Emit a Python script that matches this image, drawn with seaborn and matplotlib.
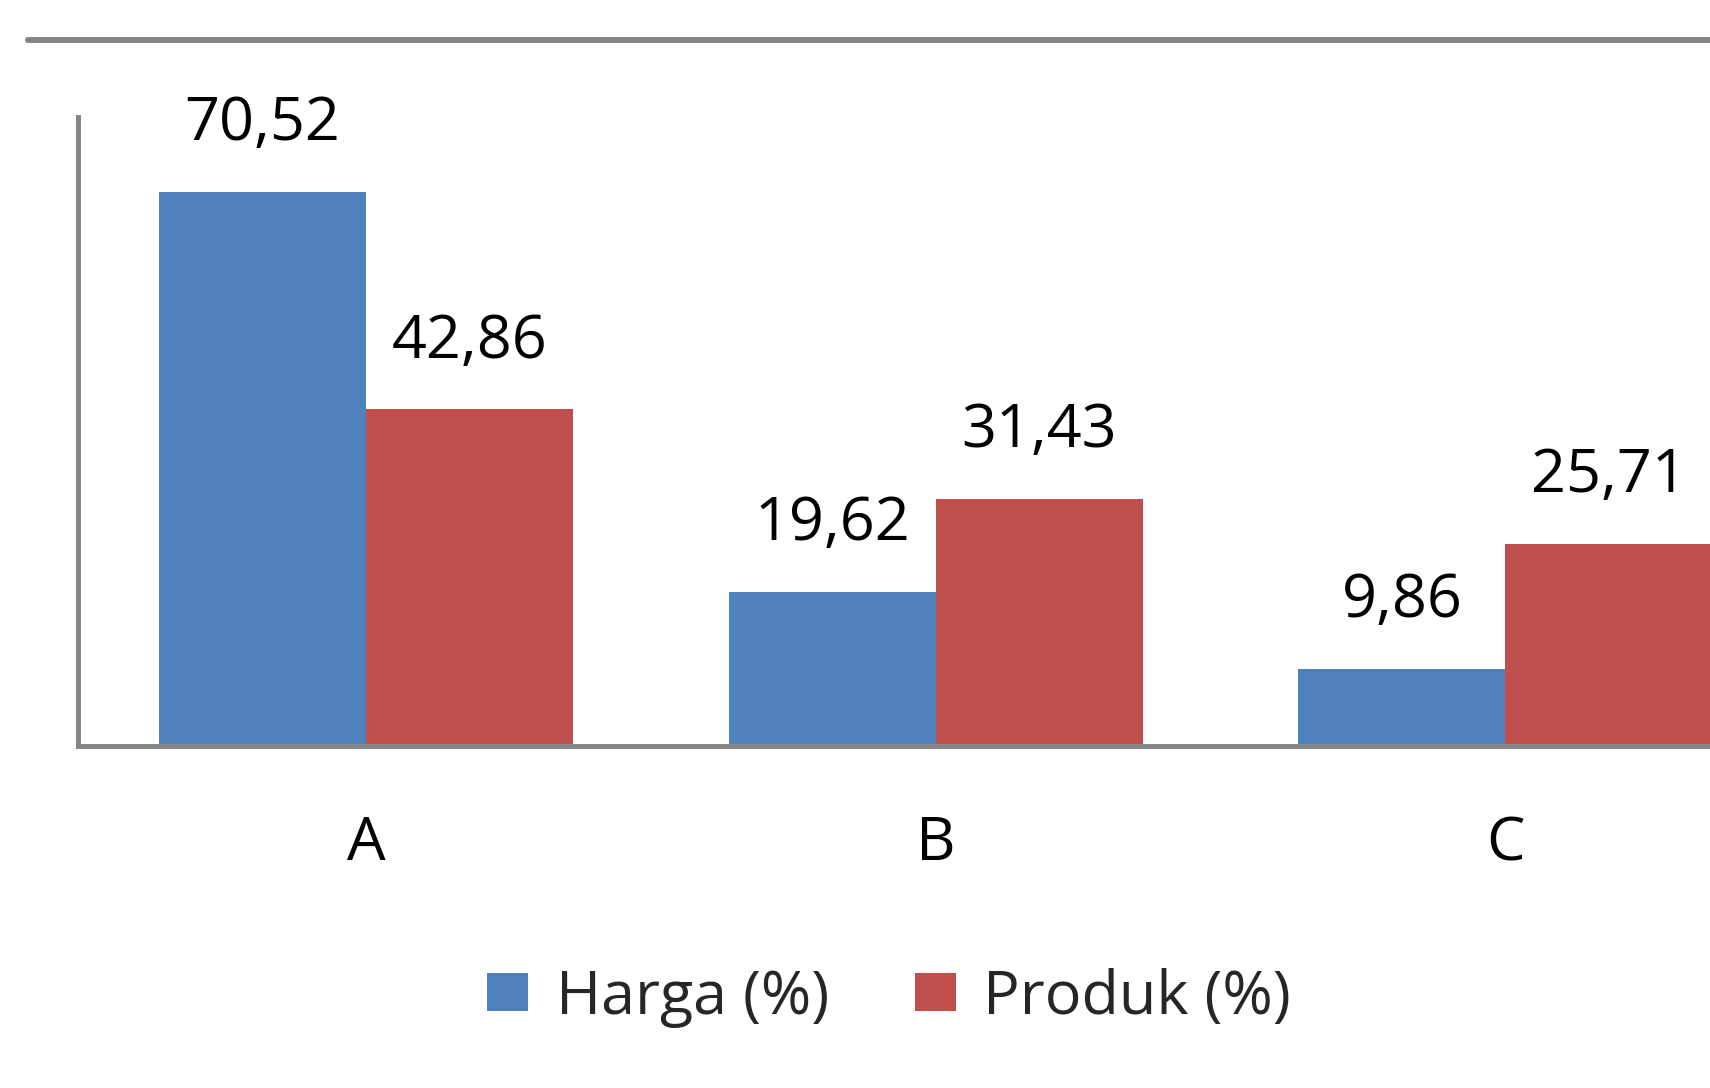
import matplotlib
matplotlib.use("Agg")
import matplotlib.pyplot as plt
import seaborn as sns
import pandas as pd
from matplotlib.patches import Patch
from matplotlib.lines import Line2D

categories = ["A", "B", "C"]
series = ["Harga (%)", "Produk (%)"]
harga = [70.52, 19.62, 9.86]
produk = [42.86, 31.43, 25.71]
colors = ["#4F81BD", "#C0504D"]

df = pd.DataFrame({
    "kategori": categories * 2,
    "seri": [series[0]] * 3 + [series[1]] * 3,
    "nilai": harga + produk,
})

sns.set_style("white")
plt.rcParams["font.family"] = ["Open Sans", "DejaVu Sans"]
grey = "#868686"

fig = plt.figure(figsize=(17.1, 10.88), dpi=100)
ax = fig.add_axes([0.0456, 0.3143, 0.9544, 0.5782])

sns.barplot(data=df, x="kategori", y="nilai", hue="seri", palette=colors,
            width=0.727, saturation=1, linewidth=0, ax=ax, legend=False)

for cont in ax.containers:
    ax.bar_label(cont, labels=[f"{v:.2f}".replace(".", ",") for v in cont.datavalues],
                 padding=27, fontsize=44, color="#000000")

ax.set_ylim(0, 80)
ax.set_xlim(-0.506, 2.359)
ax.set_xlabel("")
ax.set_ylabel("")
ax.set_yticks([])
ax.tick_params(axis="x", length=0, pad=49, labelsize=44, labelcolor="#000000")
for s in ["top", "right"]:
    ax.spines[s].set_visible(False)
for s in ["left", "bottom"]:
    ax.spines[s].set_color(grey)
    ax.spines[s].set_linewidth(3.6)

# top border line
fig.add_artist(Line2D([28 / 1710, 1.0], [1 - 40 / 1088] * 2, color=grey, lw=4.3,
                      transform=fig.transFigure))

handles = [Patch(facecolor=c, edgecolor="none") for c in colors]
fig.legend(handles, series, loc="center", bbox_to_anchor=(0.52, 0.083), ncol=2,
           frameon=False, fontsize=44, handlelength=0.67, handleheight=0.58,
           handletextpad=0.45, columnspacing=1.4)

fig.savefig("out.png", dpi=100, facecolor="white")
